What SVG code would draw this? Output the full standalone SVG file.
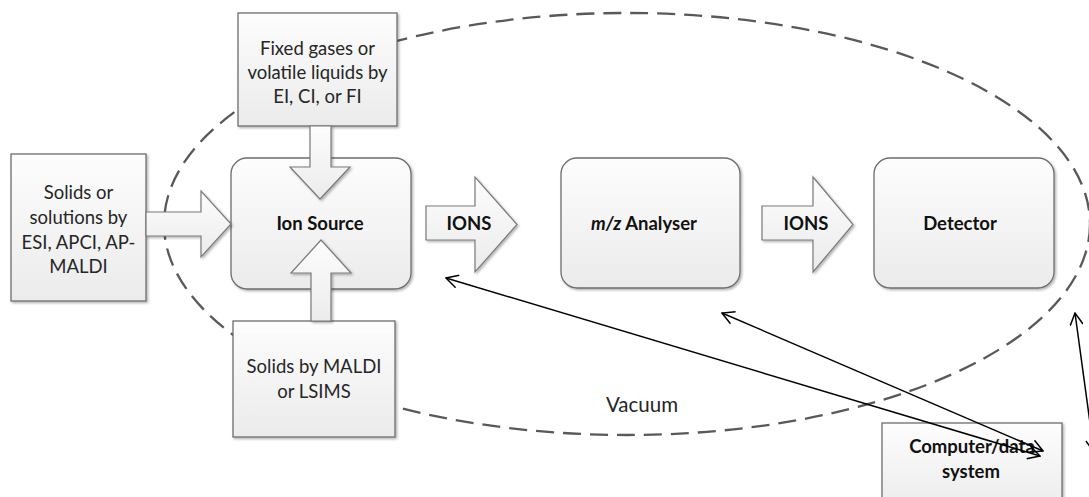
<svg xmlns="http://www.w3.org/2000/svg" width="1089" height="497" viewBox="0 0 1089 497">
  <defs>
    <linearGradient id="boxFill" x1="0" y1="0" x2="0" y2="1">
      <stop offset="0" stop-color="#fdfdfd"/>
      <stop offset="1" stop-color="#ebebeb"/>
    </linearGradient>
    <filter id="shadow" x="-10%" y="-10%" width="130%" height="130%">
      <feDropShadow dx="1.5" dy="1.5" stdDeviation="1" flood-color="#000" flood-opacity="0.3"/>
    </filter>
    <marker id="openHead" viewBox="0 0 14 14" refX="13" refY="7" markerWidth="14" markerHeight="14" markerUnits="userSpaceOnUse" orient="auto-start-reverse">
      <path d="M1,0.5 L13,7 L1,13.5" fill="none" stroke="#000" stroke-width="1.5"/>
    </marker>
    <style>
      .box { fill: url(#boxFill); stroke: #6e6e6e; stroke-width: 1.3; filter: url(#shadow); }
      .block { fill: url(#boxFill); stroke: #7a7a7a; stroke-width: 1.2; filter: url(#shadow); }
      .txt { font-family: Lato, "Liberation Sans", sans-serif; font-size: 18.5px; fill: #262626; text-anchor: middle; }
      .bold { font-weight: bold; fill: #111; }
      .big { font-size: 20.5px; }
      .vac { fill: none; stroke: #595959; stroke-width: 2.3; stroke-dasharray: 18 9; }
      .link { fill: none; stroke: #000; stroke-width: 1.5; marker-start: url(#openHead); marker-end: url(#openHead); }
    </style>
  </defs>

  <rect width="1089" height="497" fill="#fff"/>

  <!-- vacuum enclosure -->
  <g id="vacuum">
    <ellipse class="vac" cx="627" cy="224" rx="463" ry="211"/>
    <text class="txt big" x="642" y="412">Vacuum</text>
  </g>

  <!-- inlet: liquids / solutions -->
  <g id="inlet-solutions">
    <rect class="box" x="11" y="154" width="135" height="147"/>
    <text class="txt" x="78.5" y="199">Solids or</text>
    <text class="txt" x="78.5" y="224">solutions by</text>
    <text class="txt" x="78.5" y="248.5">ESI, APCI, AP-</text>
    <text class="txt" x="78.5" y="273">MALDI</text>
  </g>

  <!-- inlet: gases -->
  <g id="inlet-gases">
    <rect class="box" x="238" y="13" width="159" height="113"/>
    <text class="txt" x="317.5" y="55">Fixed gases or</text>
    <text class="txt" x="317.5" y="79">volatile liquids by</text>
    <text class="txt" x="317.5" y="103">EI, CI, or FI</text>
  </g>

  <!-- inlet: solids -->
  <g id="inlet-solids">
    <rect class="box" x="233" y="321" width="162" height="116"/>
    <text class="txt" x="314" y="373">Solids by MALDI</text>
    <text class="txt" x="314" y="398">or LSIMS</text>
  </g>

  <g id="ion-source">
    <rect class="box" x="231" y="158" width="180" height="131" rx="16"/>
    <text class="txt bold" x="320" y="230">Ion Source</text>
  </g>

  <!-- block arrows feeding the ion source (drawn over its frame) -->
  <g id="feed-arrows">
    <path class="block" d="M146,212 H201 V191 L231,224 L201,257 V236 H146 Z"/>
    <path class="block" d="M310,126 H331 V167 H350 L320,199 L290,167 H310 Z"/>
    <path class="block" d="M311,321 V273 H291 L321,240 L351,273 H331 V321 Z"/>
  </g>

  <g id="ions-1">
    <path class="block" d="M426,206 H475 V177 L517,224.5 L475,272 V240 H426 Z"/>
    <text class="txt bold" x="469" y="230">IONS</text>
  </g>

  <g id="analyser">
    <rect class="box" x="561" y="158" width="179" height="130" rx="16"/>
    <text class="txt bold" x="644" y="230"><tspan font-style="italic">m/z</tspan> Analyser</text>
  </g>

  <g id="ions-2">
    <path class="block" d="M762,206 H813 V177 L853,224.5 L813,272 V240 H762 Z"/>
    <text class="txt bold" x="806" y="230">IONS</text>
  </g>

  <g id="detector">
    <rect class="box" x="874" y="158" width="180" height="130" rx="16"/>
    <text class="txt bold" x="960" y="230">Detector</text>
  </g>

  <g id="computer">
    <rect class="box" x="882" y="423" width="180" height="90"/>
    <text class="txt bold" x="972" y="453">Computer/data</text>
    <text class="txt bold" x="971" y="478">system</text>
  </g>

  <!-- control / data links -->
  <g id="connectors">
    <line class="link" x1="446" y1="278" x2="1040" y2="456"/>
    <line class="link" x1="722" y1="313" x2="1043" y2="451"/>
    <line class="link" x1="1075" y1="313" x2="1094" y2="452"/>
  </g>
</svg>
